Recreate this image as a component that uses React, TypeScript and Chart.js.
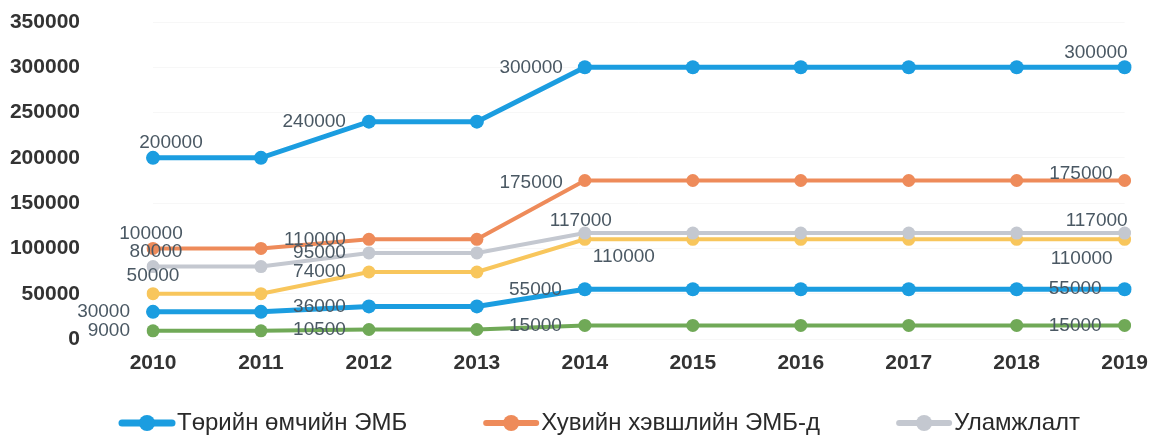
import React, { useEffect, useRef } from "react";
import { Chart, registerables } from "chart.js";

Chart.register(...registerables);

const years = ["2010", "2011", "2012", "2013", "2014", "2015", "2016", "2017", "2018", "2019"];
const stateOwned = [200000, 200000, 240000, 240000, 300000, 300000, 300000, 300000, 300000, 300000];
const privateSector = [100000, 100000, 110000, 110000, 175000, 175000, 175000, 175000, 175000, 175000];
const traditional = [80000, 80000, 95000, 95000, 117000, 117000, 117000, 117000, 117000, 117000];
const yellowSeries = [50000, 50000, 74000, 74000, 110000, 110000, 110000, 110000, 110000, 110000];
const lightBlueSeries = [30000, 30000, 36000, 36000, 55000, 55000, 55000, 55000, 55000, 55000];
const greenSeries = [9000, 9000, 10500, 10500, 15000, 15000, 15000, 15000, 15000, 15000];
const yTicks = [0, 50000, 100000, 150000, 200000, 250000, 300000, 350000];

const seriesNames = ["Төрийн өмчийн ЭМБ", "Хувийн хэвшлийн ЭМБ-д", "Уламжлалт", "", "", ""];
const legendCount = 3;

// ---- styles ----
const colors = ["#1b9de0", "#ee8b5a", "#c4c8d0", "#f8c65c", "#1b9de0", "#70a957"];
const widths = [5, 4, 4, 4, 5, 4];
const radii = [7, 6.5, 6.5, 6.5, 7, 6.5];

// label placement per series: point index -> [textAlign, dx, dy]
type Place = [CanvasTextAlign, number, number];
const L: Place = ["right", -23, 0];
const labelPlacement: Record<number, Place>[] = [
  { 0: ["center", 18, -15], 2: L, 4: ["right", -22, 0], 9: ["right", 3, -15] },
  { 0: ["center", -2, -15], 2: L, 4: ["right", -22, 2], 9: ["right", -12, -7] },
  { 0: ["center", 3, -15], 2: L, 4: ["center", -4, -12], 9: ["right", 3, -12] },
  { 0: ["center", 0, -18], 2: L, 4: ["left", 8, 17], 9: ["right", -12, 19] },
  { 0: L, 2: L, 4: ["right", -23, 1], 9: L },
  { 0: L, 2: L, 4: L, 9: L },
];

const labelPlugin = {
  id: "valueLabels",
  afterDatasetsDraw(chart: any) {
    const ctx = chart.ctx;
    ctx.save();
    ctx.font = "19px 'Liberation Sans', Arial, sans-serif";
    ctx.fillStyle = "#4a5863";
    ctx.textBaseline = "middle";
    chart.data.datasets.forEach((ds: any, di: number) => {
      const meta = chart.getDatasetMeta(di);
      const place = labelPlacement[di];
      meta.data.forEach((pt: any, i: number) => {
        const p = place[i];
        if (!p) return;
        ctx.textAlign = p[0];
        ctx.fillText(String(ds.data[i]), pt.x + p[1], pt.y + p[2]);
      });
    });
    ctx.restore();
  },
};

const legendPlugin = {
  id: "customLegend",
  afterDraw(chart: any) {
    const ctx = chart.ctx;
    const y = 423;
    let x = 119;
    const iconW = 56;
    ctx.save();
    ctx.font = "24px 'Liberation Sans', Arial, sans-serif";
    ctx.textBaseline = "middle";
    ctx.textAlign = "left";
    for (let i = 0; i < legendCount; i++) {
      const c = colors[i];
      ctx.strokeStyle = c;
      ctx.lineWidth = i === 0 ? 7 : 6;
      ctx.lineCap = "round";
      ctx.beginPath();
      ctx.moveTo(x + 3, y);
      ctx.lineTo(x + iconW - 3, y);
      ctx.stroke();
      ctx.fillStyle = c;
      ctx.beginPath();
      ctx.arc(x + iconW / 2, y, 8, 0, Math.PI * 2);
      ctx.fill();
      ctx.fillStyle = "#2a2a2a";
      const tx = x + iconW + 2;
      ctx.fillText(seriesNames[i], tx, y);
      x = tx + ctx.measureText(seriesNames[i]).width + 76;
    }
    ctx.restore();
  },
};

export default function App() {
  const ref = useRef<HTMLCanvasElement | null>(null);
  useEffect(() => {
    if (!ref.current) return;
    const series = [stateOwned, privateSector, traditional, yellowSeries, lightBlueSeries, greenSeries];
    const chart = new Chart(ref.current, {
      type: "line",
      data: {
        labels: years,
        datasets: series.map((d, i) => ({
          label: seriesNames[i],
          data: d,
          borderColor: colors[i],
          backgroundColor: colors[i],
          borderWidth: widths[i],
          pointRadius: radii[i],
          pointBorderWidth: 0,
          pointBackgroundColor: colors[i],
          pointStyle: "circle",
          tension: 0,
          fill: false,
        })),
      },
      options: {
        animation: false,
        responsive: false,
        maintainAspectRatio: false,
        layout: { padding: { left: 0, right: 27, top: 22, bottom: 53 } },
        plugins: {
          legend: { display: false },
          tooltip: { enabled: false },
        },
        scales: {
          x: {
            type: "category",
            offset: false,
            grid: { display: false },
            border: { display: false },
            ticks: {
              color: "#333",
              padding: 4,
              font: { family: "'Liberation Sans', Arial, sans-serif", size: 21, weight: "bold" },
              maxRotation: 0,
              autoSkip: false,
            },
            afterFit: (s: any) => {
              s.height = 45;
            },
          },
          y: {
            min: 0,
            max: 350000,
            afterBuildTicks: (s: any) => {
              s.ticks = yTicks.map((v) => ({ value: v }));
            },
            grid: { color: "rgba(0,0,0,0.03)", drawTicks: false },
            border: { display: false },
            ticks: {
              color: "#333",
              padding: 73,
              callback: (v: any) => String(v),
              font: { family: "'Liberation Sans', Arial, sans-serif", size: 21, weight: "bold" },
            },
            afterFit: (s: any) => {
              s.width = 153;
              s.paddingTop = 0;
              s.paddingBottom = 0;
            },
          },
        },
      },
      plugins: [labelPlugin, legendPlugin],
    });
    return () => chart.destroy();
  }, []);
  return (
    <div style={{ position: "fixed", left: 0, top: 0, width: 1152, height: 437, background: "#fff" }}>
      <canvas ref={ref} width={1152} height={437} style={{ width: 1152, height: 437 }} />
    </div>
  );
}
